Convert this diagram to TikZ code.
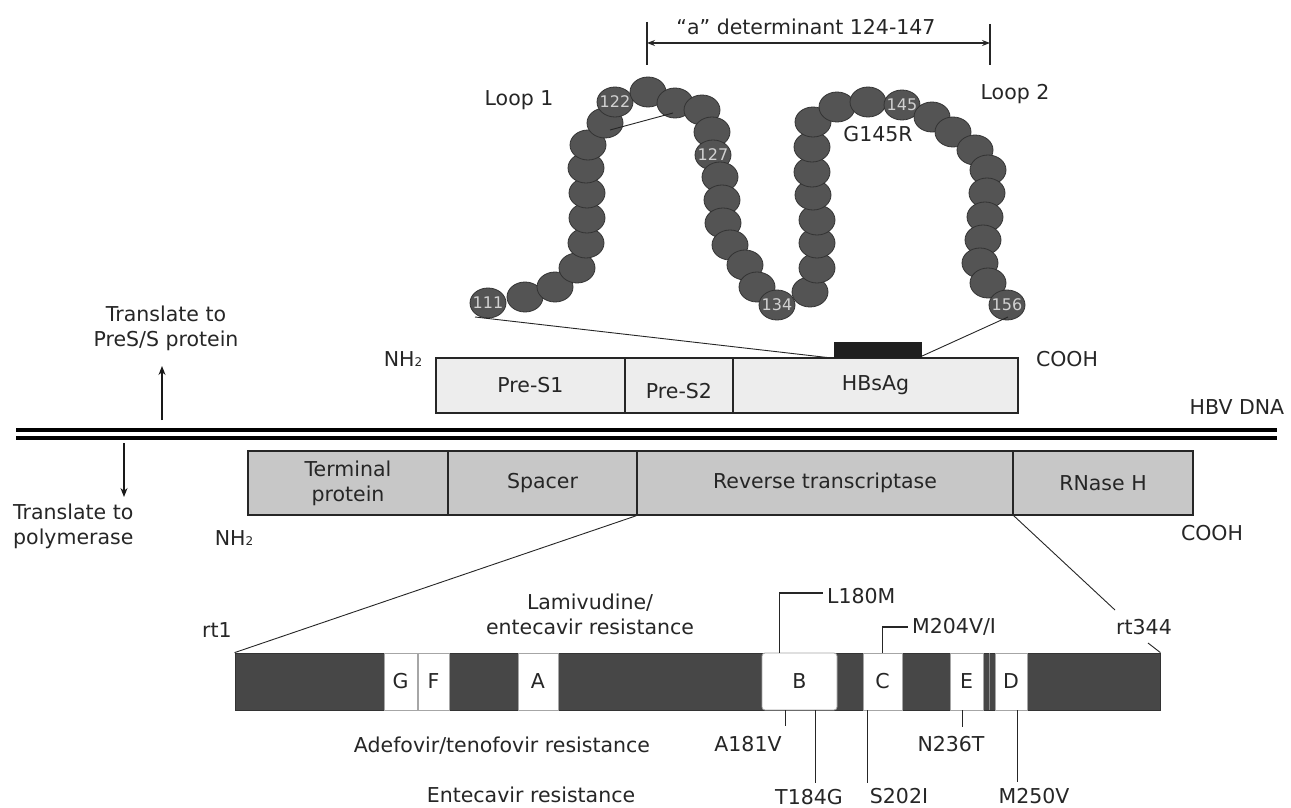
\documentclass[tikz,border=0pt]{standalone}
\usepackage{fontspec}
\setmainfont{DejaVu Sans}
\usetikzlibrary{arrows.meta,shapes.geometric}
\begin{document}
\begin{tikzpicture}[x=1pt,y=-1pt,
 txt/.style={inner sep=0pt,text=black!85,font=\fontsize{20.5}{25}\selectfont},
 bead/.style={ellipse,draw=black!80,line width=0.8pt,fill=black!67,minimum width=36pt,minimum height=30pt,inner sep=0pt},
 beadnum/.style={inner sep=0pt,text=black!18,font=\fontsize{16}{16}\selectfont},
 pbox/.style={txt,draw=black!85,line width=1.3pt,fill=black!7,minimum height=55pt,inner sep=0pt},
 polbox/.style={txt,draw=black!85,line width=1.5pt,fill=black!22,minimum height=64pt,inner sep=0pt,align=center},
 seg/.style={txt,draw=black!35,line width=0.8pt,fill=white,minimum height=57pt,inner sep=0pt},
 lead/.style={line width=1.3pt,draw=black!85},
 arr/.style={-{Stealth[length=9pt,width=7pt]},line width=1.2pt,draw=black!90},
 conn/.style={line width=0.9pt,draw=black!85},
 dna/.style={line width=3.5pt,draw=black}
]
\fill[white] (0,0) rectangle (1291,808);
\useasboundingbox (0,0) rectangle (1291,808);

% ---- "a" determinant ----
\coordinate (dLt) at (647,22);
\coordinate (dLb) at (647,65);
\coordinate (dRt) at (990,24);
\coordinate (dRb) at (990,65);
\coordinate (dA) at (647,43);
\coordinate (dB) at (990,43);
\draw[conn,line width=1.2pt] (dLt) -- (dLb);
\draw[conn,line width=1.2pt] (dRt) -- (dRb);
\draw[conn,line width=1.2pt,{Stealth[length=8pt,width=6pt]}-{Stealth[length=8pt,width=6pt]}] (dA) -- (dB);
\node[txt] (det) at (806,27) {“a” determinant 124-147};
\node[txt] (loop1) at (519,100) {Loop 1};
\node[txt] (loop2) at (1015,94) {Loop 2};

% ---- beads ----
\foreach \bx/\by [count=\i] in {488/303,525/297,555/287,577/268,586/243,587/218,587/193,586/168,588/145,605/123,615/102,648/92,675/103,702/110,712/132,713/155,720/177,722/200,723/223,730/245,745/265,757/287,777/305,810/292,817/268,817/243,817/220,813/195,812/172,812/147,813/122,837/107,868/102,902/105,932/117,953/132,975/150,988/170,987/193,985/217,983/240,980/263,988/283,1007/305}
  \node[bead] (b\i) at (\bx,\by) {};
\draw[conn] ([shift={(5,7)}]b10.center) -- ([shift={(-2,10)}]b13.center);
\node[beadnum] (n111) at (b1) {111};
\node[beadnum] (n122) at (b11) {122};
\node[beadnum] (n127) at (b16) {127};
\node[beadnum] (n134) at (b23) {134};
\node[beadnum] (n145) at (b34) {145};
\node[beadnum] (n156) at (b44) {156};
\node[txt] (g145r) at (878,134) {G145R};

% ---- S protein ----
\node[pbox,minimum width=189pt] (pres1) at (530.5,385.5) {Pre-S1};
\node[pbox,minimum width=108pt] (pres2) at (679,385.5) {};
\node[txt] (pres2t) at (679,391) {Pre-S2};
\node[pbox,minimum width=285pt] (hbsag) at (875.5,385.5) {HBsAg};
\node[inner sep=0pt,fill=black!88,minimum width=88pt,minimum height=16pt] (hb) at (877.5,350) {};
\draw[conn] ([shift={(-13,14)}]b1.center) -- (hb.south west);
\draw[conn] ([shift={(1,12)}]b44.center) -- ([yshift=2pt]hb.south east);
\node[txt] (nh2a) at (403,359) {NH\raisebox{-0.5pt}{\fontsize{12}{12}\selectfont 2}};
\node[txt] (cooha) at (1067,359) {COOH};

% ---- DNA ----
\coordinate (d1l) at (16,430);
\coordinate (d1r) at (1277,430);
\coordinate (d2l) at (16,438);
\coordinate (d2r) at (1277,438);
\draw[dna] (d1l) -- (d1r);
\draw[dna] (d2l) -- (d2r);
\node[txt] (hbvdna) at (1237,407) {HBV DNA};

\node[txt,align=center] (trS) at (166,328) {Translate to\\PreS/S protein};
\coordinate (upS) at (162,420);
\coordinate (upE) at (162,366);
\draw[arr] (upS) -- (upE);
\node[txt,align=left,anchor=west] (trP) at (13,526) {Translate to\\polymerase};
\coordinate (dnS) at (124,443);
\coordinate (dnE) at (124,497);
\draw[arr] (dnS) -- (dnE);

% ---- polymerase ----
\node[polbox,minimum width=200pt] (tp) at (348,483) {Terminal\\protein};
\node[polbox,minimum width=189pt] (spacer) at (542.5,483) {Spacer};
\node[polbox,minimum width=376pt] (rt) at (825,483) {Reverse transcriptase};
\node[polbox,minimum width=180pt] (rnase) at (1103,483) {RNase H};
\node[txt] (nh2b) at (234,538) {NH\raisebox{-0.5pt}{\fontsize{12}{12}\selectfont 2}};
\node[txt] (coohb) at (1212,533) {COOH};

% ---- RT domain bar ----
\node[inner sep=0pt,fill=black!72,draw=black!80,line width=0.8pt,minimum width=925pt,minimum height=57pt] (rtbar) at (697.5,681.5) {};
\node[seg,minimum width=33pt] (segG) at (400.5,681.5) {G};
\node[seg,minimum width=31pt] (segF) at (433.5,681.5) {F};
\node[seg,minimum width=40pt] (segA) at (538,681.5) {A};
\node[seg,minimum width=75pt,rounded corners=3pt] (segB) at (799.5,681.5) {B};
\node[seg,minimum width=39pt] (segC) at (882.5,681.5) {C};
\node[seg,minimum width=33pt] (segE) at (966.5,681.5) {E};
\node[seg,minimum width=32pt] (segD) at (1011,681.5) {D};
\draw[draw=black!45,line width=0.8pt] ([xshift=6pt]segE.north east) -- ([xshift=6pt]segE.south east);

\draw[conn] (rt.south west) -- (rtbar.north west);
\coordinate (rt344end) at (1115,610);
\draw[conn] (rt.south east) -- (rt344end);
\node[txt] (rt1) at (217,630) {rt1};
\node[txt] (rt344) at (1144,627) {rt344};
\coordinate (rt344tick) at (1148,643);
\draw[conn] (rt344tick) -- (rtbar.north east);

\node[txt,align=center] (lam) at (590,614) {Lamivudine/\\entecavir resistance};
\node[txt] (adef) at (502,746) {Adefovir/tenofovir resistance};
\node[txt] (ente) at (531,795) {Entecavir resistance};

% ---- mutations ----
\node[txt,anchor=west] (l180m) at (827,596) {L180M};
\coordinate (l180mc) at (823,593);
\draw[lead] ([xshift=18pt]segB.north west) |- (l180mc);
\node[txt,anchor=west] (m204) at (912,627) {M204V/I};
\coordinate (m204c) at (908,627);
\draw[lead] (segC.north) |- (m204c);

\node[txt] (a181v) at (748,744) {A181V};
\draw[lead] ([xshift=24pt]segB.south west) -- ++(0,16);
\node[txt] (t184g) at (809,797) {T184G};
\draw[lead] ([xshift=54pt]segB.south west) -- ++(0,73);
\node[txt] (s202i) at (899,796) {S202I};
\draw[lead] ([xshift=5pt]segC.south west) -- ++(0,73);
\node[txt] (n236t) at (951,744) {N236T};
\draw[lead] ([xshift=13pt]segE.south west) -- ++(0,17);
\node[txt] (m250v) at (1034,796) {M250V};
\draw[lead] ([xshift=23pt]segD.south west) -- ++(0,72);
\end{tikzpicture}
\end{document}
